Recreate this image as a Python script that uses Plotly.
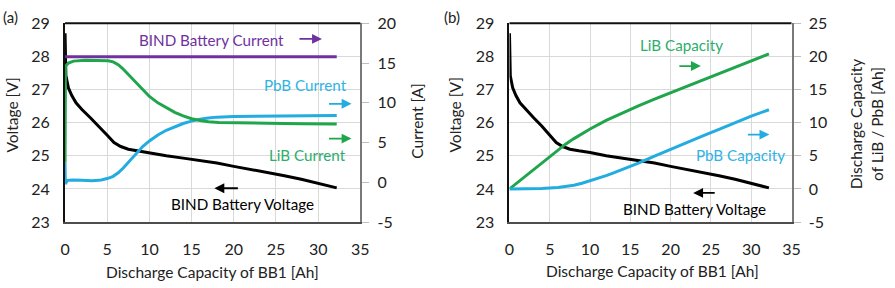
import plotly.graph_objects as go

# ---------------- data ----------------
volt_x = [0, 0.03, 0.1, 0.4, 0.8, 1.3, 2, 3, 4, 5, 5.8, 6.6, 7.5, 8.6, 10, 12, 14, 16, 18, 20, 22, 24, 26, 28, 30, 32.2]
volt_v = [28.7, 27.9, 27.42, 27.05, 26.82, 26.6, 26.4, 26.15, 25.9, 25.62, 25.4, 25.28, 25.2, 25.15, 25.1, 25.0, 24.93, 24.86, 24.78, 24.68, 24.59, 24.5, 24.4, 24.29, 24.17, 24.03]

bind_cur_x = [0, 32.2]
bind_cur_a = [15.8, 15.8]

lib_cur_x = [0, 0.05, 0.4, 1, 2.4, 4, 5.1, 5.7, 6.3, 6.8, 7.3, 8, 9, 10, 11, 12, 13, 14, 15, 16, 17, 18.2, 20, 24, 28, 32.2]
lib_cur_a = [2.5, 14.6, 15.0, 15.25, 15.35, 15.35, 15.3, 15.15, 14.8, 14.35, 13.8, 12.9, 11.8, 10.8, 10.0, 9.35, 8.8, 8.35, 8.0, 7.78, 7.62, 7.53, 7.47, 7.42, 7.38, 7.33]

pbb_cur_x = [0, 0.03, 0.3, 0.85, 2, 3.2, 4.3, 5.1, 5.7, 6.3, 6.9, 7.5, 8.0, 8.6, 9.2, 10, 11, 12, 13, 14, 15, 16, 17, 18, 20, 24, 28, 32.2]
pbb_cur_a = [2.5, -0.2, 0.25, 0.3, 0.25, 0.2, 0.3, 0.5, 0.75, 1.2, 1.8, 2.5, 3.2, 3.9, 4.5, 5.2, 5.95, 6.55, 7.0, 7.4, 7.7, 7.95, 8.1, 8.2, 8.27, 8.3, 8.32, 8.42]

lib_cap_x = [0, 2, 4, 6, 7, 8, 9, 10, 12, 14, 16, 18, 20, 22, 24, 26, 28, 30, 32.2]
lib_cap_ah = [0, 1.95, 3.9, 5.85, 6.8, 7.6, 8.35, 9.05, 10.35, 11.5, 12.55, 13.55, 14.5, 15.45, 16.4, 17.35, 18.3, 19.3, 20.4]

pbb_cap_x = [0, 2, 4, 6, 7, 8, 9, 10, 11, 12, 13, 14, 16, 18, 20, 22, 24, 26, 28, 30, 32.2]
pbb_cap_ah = [0, 0.02, 0.08, 0.2, 0.35, 0.55, 0.85, 1.2, 1.6, 2.0, 2.45, 2.9, 3.9, 4.95, 6.0, 7.0, 8.0, 9.0, 10.0, 11.0, 11.95]

x_ticks = [0, 5, 10, 15, 20, 25, 30, 35]
cur_ticks = [-5, 0, 5, 10, 15, 20]
cur_labels = ["-5", "0", "5", "10", "15", "20"]
cap_ticks = [-5, 0, 5, 10, 15, 20, 25]
cap_labels = ["-5", "0", "5", "10", "15", "20", "25"]

BLACK = "#000000"
PURPLE = "#7030A0"
GREEN = "#1FA64C"
CYAN = "#22ACE0"
GREEN_T = "#2BAE6A"
CYAN_T = "#2DB3E6"
FONT = "Lato"

fig = go.Figure()
lw = 3
fig.add_trace(go.Scatter(x=bind_cur_x, y=bind_cur_a, xaxis="x", yaxis="y2", mode="lines", line=dict(color=PURPLE, width=lw)))
fig.add_trace(go.Scatter(x=pbb_cur_x, y=pbb_cur_a, xaxis="x", yaxis="y2", mode="lines", line=dict(color=CYAN, width=lw)))
fig.add_trace(go.Scatter(x=lib_cur_x, y=lib_cur_a, xaxis="x", yaxis="y2", mode="lines", line=dict(color=GREEN, width=lw)))
fig.add_trace(go.Scatter(x=volt_x, y=volt_v, xaxis="x", yaxis="y", mode="lines", line=dict(color=BLACK, width=lw)))

fig.add_trace(go.Scatter(x=lib_cap_x, y=lib_cap_ah, xaxis="x2", yaxis="y4", mode="lines", line=dict(color=GREEN, width=lw)))
fig.add_trace(go.Scatter(x=pbb_cap_x, y=pbb_cap_ah, xaxis="x2", yaxis="y4", mode="lines", line=dict(color=CYAN, width=lw)))
fig.add_trace(go.Scatter(x=volt_x, y=volt_v, xaxis="x2", yaxis="y3", mode="lines", line=dict(color=BLACK, width=lw)))

W, H = 895, 288
dl = [61 / W, 361 / W]
dr = [512.5 / W, 799 / W]
dy = [(H - 227) / H, (H - 14.3) / H]

tickfont = dict(family=FONT, size=16, color="#222222")
grid = "#d9d9d9"

def xax(domain, anchor):
    return dict(domain=domain, anchor=anchor, range=[0, 35], tickvals=x_ticks,
                showgrid=True, gridcolor=grid, gridwidth=1, zeroline=False,
                showline=True, linecolor="#4d4d4d", linewidth=2, ticks="",
                tickfont=tickfont, ticklabelstandoff=12)

def yleft(domain, anchor):
    return dict(domain=domain, anchor=anchor, range=[23, 29], dtick=1,
                showgrid=True, gridcolor=grid, gridwidth=1, zeroline=False,
                showline=True, linecolor="#111111", linewidth=2, ticks="",
                tickfont=tickfont, ticklabelstandoff=10)

def yright(overlay, anchor, rng, tv, tt):
    return dict(overlaying=overlay, anchor=anchor, side="right", range=rng,
                tickvals=tv, ticktext=tt,
                showgrid=False, zeroline=False, showline=True, linecolor="#7a7a7a",
                linewidth=2, ticks="outside", ticklen=7, tickcolor="#bfbfbf", tickwidth=1,
                tickfont=tickfont, ticklabelstandoff=5)

fig.update_layout(
    width=W, height=H, margin=dict(l=0, r=0, t=0, b=0),
    paper_bgcolor="white", plot_bgcolor="white", showlegend=False,
    font=dict(family=FONT, size=15, color="#222222"),
    xaxis=xax(dl, "y"), yaxis=yleft(dy, "x"), yaxis2=yright("y", "x", [-5, 20], cur_ticks, cur_labels),
    xaxis2=xax(dr, "y3"), yaxis3=yleft(dy, "x2"), yaxis4=yright("y3", "x2", [-5, 25], cap_ticks, cap_labels),
)

# top frame lines
for d in (dl, dr):
    fig.add_shape(type="line", xref="paper", yref="paper", x0=d[0], x1=d[1], y0=dy[1], y1=dy[1],
                  line=dict(color="#111111", width=2))

ann = []
def txt(x, y, s, color, xref="x", yref="y", size=15.2, angle=0):
    ann.append(dict(x=x, y=y, xref=xref, yref=yref, text=s, showarrow=False,
                    font=dict(family=FONT, size=size, color=color), textangle=angle,
                    xanchor="center", yanchor="middle"))

def arrow(x, y, ax, color, xref="x", yref="y"):
    ann.append(dict(x=x, y=y, xref=xref, yref=yref, ax=ax, ay=0, axref="pixel", ayref="pixel",
                    text="", showarrow=True, arrowhead=2, arrowsize=1.1, arrowwidth=1.8,
                    arrowcolor=color, standoff=0))

# panel (a)
txt(17.4, 28.5, "BIND Battery Current", PURPLE)
arrow(30.45, 28.53, -24, PURPLE)
txt(28.5, 27.14, "PbB Current", CYAN_T)
arrow(33.95, 26.57, -24, CYAN)
arrow(33.95, 25.52, -24, GREEN)
txt(28.7, 25.01, "LiB Current", GREEN_T)
arrow(17.7, 24.02, 25, BLACK)
txt(21.0, 23.54, "BIND Battery Voltage", BLACK)

# panel (b)
txt(21.3, 28.36, "LiB Capacity", GREEN_T, "x2", "y3")
arrow(23.75, 27.71, -23, GREEN, "x2", "y3")
arrow(32.26, 25.64, -23, CYAN, "x2", "y3")
txt(28.7, 25.01, "PbB Capacity", CYAN_T, "x2", "y3")
arrow(22.8, 23.88, 23, BLACK, "x2", "y3")
txt(23.0, 23.4, "BIND Battery Voltage", BLACK, "x2", "y3")

# axis titles & panel labels
def ptxt(px, py, s, angle=0, size=15.5):
    txt(px / W, 1 - py / H, s, "#222222", "paper", "paper", size, angle)

ptxt(7, 112, "Voltage [V]", -90)
ptxt(419, 118, "Current [A]", -90)
ptxt(457, 112, "Voltage [V]", -90)
ptxt(875, 122, "Discharge Capacity<br>of LiB / PbB [Ah]", -90)
ptxt(211, 280, "Discharge Capacity of BB1 [Ah]")
ptxt(658, 279, "Discharge Capacity of BB1 [Ah]")
ann.append(dict(x=-0.004, y=1 - 8 / H, xref="paper", yref="paper", text="(a)", showarrow=False,
                xanchor="left", yanchor="middle", font=dict(family=FONT, size=15, color="#222222")))
ann.append(dict(x=444 / W, y=1 - 8 / H, xref="paper", yref="paper", text="(b)", showarrow=False,
                xanchor="left", yanchor="middle", font=dict(family=FONT, size=15, color="#222222")))

fig.update_layout(annotations=ann)
fig.write_html("out.html")
